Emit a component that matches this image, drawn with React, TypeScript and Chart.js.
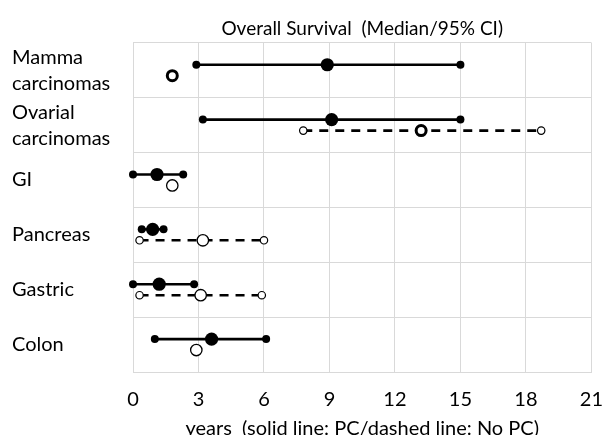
import React, { useEffect, useRef } from 'react';
import { Chart, registerables } from 'chart.js';

Chart.register(...registerables);

// ---- data (years) ----
const categories: (string | string[])[] = [
  ['Mamma', 'carcinomas'],
  ['Ovarial', 'carcinomas'],
  'GI',
  'Pancreas',
  'Gastric',
  'Colon',
];
const pcLow = [2.9, 3.2, 0.0, 0.4, 0.0, 1.0];
const pcMedian = [8.9, 9.1, 1.1, 0.9, 1.2, 3.6];
const pcHigh = [15.0, 15.0, 2.3, 1.4, 2.8, 6.1];
const noPcLow: (number | null)[] = [null, 7.8, null, 0.3, 0.3, null];
const noPcMedian = [1.8, 13.2, 1.8, 3.2, 3.1, 2.9];
const noPcHigh: (number | null)[] = [null, 18.7, null, 6.0, 5.9, null];
const xTicks = [0, 3, 6, 9, 12, 15, 18, 21];

const titleText = 'Overall Survival  (Median/95% CI)';
const xTitleText = 'years  (solid line: PC/dashed line: No PC)';

// ---- style ----
const FONT = 'Lato';
const GRID = '#d9d9d9';
const ROW_PC = 0.4;
const ROW_NOPC = 0.6;
const thickOpenMedian = [true, true, false, false, false, false];

export default function App() {
  const ref = useRef<HTMLCanvasElement | null>(null);

  useEffect(() => {
    if (!ref.current) return;
    const datasets: any[] = [];
    categories.forEach((_, i) => {
      const yPc = i + ROW_PC;
      datasets.push({
        label: 'PC',
        data: [pcLow[i], pcMedian[i], pcHigh[i]].map((x) => ({ x, y: yPc })),
        showLine: true,
        borderColor: '#000',
        backgroundColor: '#000',
        borderWidth: 2.6,
        pointBackgroundColor: '#000',
        pointBorderColor: '#000',
        pointBorderWidth: 0,
        pointRadius: [4, 6.6, 4],
        clip: false,
      });
      const yN = i + ROW_NOPC;
      const hasCI = noPcLow[i] != null;
      const xs = hasCI ? [noPcLow[i], noPcMedian[i], noPcHigh[i]] : [noPcMedian[i]];
      const medR = thickOpenMedian[i] ? 5 : 5.7;
      const medBW = thickOpenMedian[i] ? 3 : 1.3;
      datasets.push({
        label: 'No PC',
        data: xs.map((x) => ({ x, y: yN })),
        showLine: hasCI,
        borderColor: '#000',
        backgroundColor: '#fff',
        borderWidth: 2.6,
        borderDash: [9, 7],
        pointBackgroundColor: '#fff',
        pointBorderColor: '#000',
        pointRadius: hasCI ? [3.7, medR, 3.7] : [medR],
        pointBorderWidth: hasCI ? [1.2, medBW, 1.2] : [medBW],
        clip: false,
      });
    });

    const chart = new Chart(ref.current, {
      type: 'scatter',
      data: { datasets },
      options: {
        animation: false,
        responsive: false,
        layout: { padding: { left: 12, right: 0, top: 0, bottom: 0 } },
        plugins: {
          legend: { display: false },
          tooltip: { enabled: false },
          title: {
            display: true,
            text: titleText,
            fullSize: false,
            color: '#000',
            font: { family: FONT, size: 19, weight: 'normal', lineHeight: 1.2 },
            padding: { top: 17, bottom: 3 },
          },
        },
        scales: {
          x: {
            type: 'linear',
            min: 0,
            max: 21,
            afterBuildTicks: (s: any) => {
              s.ticks = xTicks.map((v) => ({ value: v }));
            },
            afterFit: (s: any) => {
              s.height = 63;
            },
            ticks: {
              padding: 0,
              color: '#000',
              autoSkip: false,
              maxRotation: 0,
              font: { family: FONT, size: 20 },
            },
            grid: {
              color: GRID,
              drawTicks: true,
              tickLength: 16,
              tickColor: 'rgba(0,0,0,0)',
            },
            border: { color: GRID },
            title: {
              display: true,
              text: xTitleText,
              color: '#000',
              font: { family: FONT, size: 20, lineHeight: 0.6 },
              padding: 0,
            },
          },
          y: {
            type: 'linear',
            min: 0,
            max: 6,
            reverse: true,
            afterFit: (s: any) => {
              s.width = 121;
            },
            ticks: {
              stepSize: 0.5,
              autoSkip: false,
              crossAlign: 'far',
              color: '#000',
              font: { family: FONT, size: 20, lineHeight: 1.3 },
              callback: (v: any) => {
                const k = Number(v) - 0.5;
                return Number.isInteger(k) ? categories[k] : '';
              },
            },
            grid: {
              color: (c: any) =>
                c.tick && Number.isInteger(c.tick.value) ? GRID : 'rgba(0,0,0,0)',
              drawTicks: false,
              tickLength: 0,
            },
            border: { color: GRID },
          },
        },
      } as any,
    });
    return () => chart.destroy();
  }, []);

  return (
    <div style={{ position: 'absolute', left: 0, top: 0, width: 603, height: 435, background: '#fff' }}>
      <canvas ref={ref} width={603} height={435} />
    </div>
  );
}
